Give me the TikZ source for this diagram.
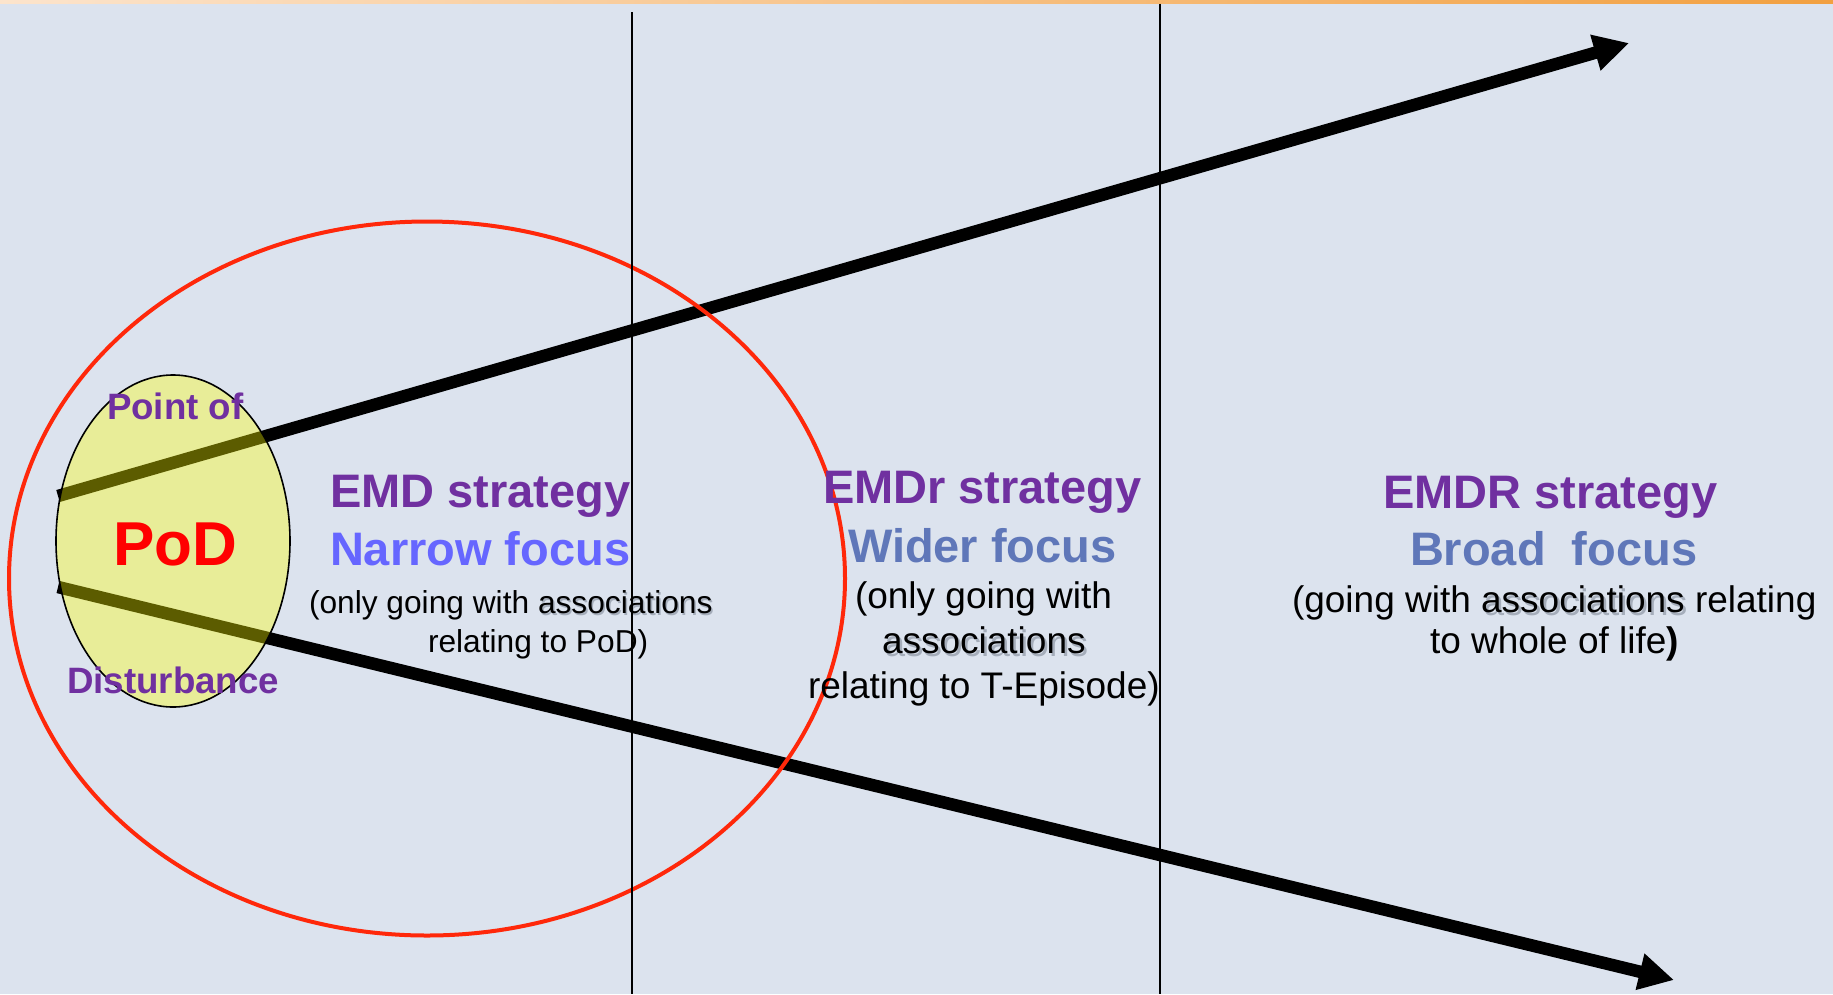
\documentclass[tikz,border=0pt]{standalone}
\usepackage{fontspec}
\setmainfont{Liberation Sans}
\usetikzlibrary{arrows.meta,shapes.geometric}
\definecolor{bgblue}{RGB}{220,227,238}
\definecolor{strpurple}{RGB}{112,48,160}
\definecolor{narrowblue}{RGB}{102,102,255}
\definecolor{steelblue}{RGB}{95,119,185}
\definecolor{redring}{RGB}{255,40,10}
\definecolor{peach}{RGB}{252,228,204}
\definecolor{orangetop}{RGB}{242,160,64}
\definecolor{podyellow}{RGB}{255,255,0}
\definecolor{shadowgray}{RGB}{120,130,145}
\tikzset{
  lbl/.style={anchor=base west, inner sep=0pt, outer sep=0pt},
  headtxt/.style={lbl, font=\fontsize{47}{56}\selectfont\bfseries},
  bodytxt/.style={lbl, font=\fontsize{37}{44}\selectfont},
  smalltxt/.style={lbl, font=\fontsize{31.7}{38}\selectfont},
  podlbl/.style={lbl, font=\fontsize{36.7}{44}\selectfont\bfseries, text=strpurple},
  shadowtxt/.style={text=shadowgray, opacity=0.55},
  arrowline/.style={line width=12.5pt, -{Triangle[length=35pt,width=35pt]}},
  divider/.style={line width=1.8pt, black},
  ring/.style={ellipse, draw=redring, line width=4pt, inner sep=0pt, minimum width=836pt, minimum height=714pt},
  podshape/.style={ellipse, draw=black, line width=1.6pt, fill=podyellow, fill opacity=0.36, inner sep=0pt, minimum width=234pt, minimum height=332pt},
}
\begin{document}
\begin{tikzpicture}[x=1pt,y=-1pt]
\useasboundingbox (0,0) rectangle (1833,994);
% background
\fill[bgblue] (0,0) rectangle (1833,994);
\shade[left color=peach, right color=orangetop] (0,0) rectangle (1833,3.5);

% arrows
\coordinate (u0) at (58,496);
\coordinate (u1) at (1629,43);
\coordinate (d0) at (58,587);
\coordinate (d1) at (1674,980);
\draw[arrowline] (u0) -- (u1);
\draw[arrowline] (d0) -- (d1);

% red ring
\node[ring] (redring) at (427,578.5) {};

% PoD ellipse
\node[podshape] (pod) at (173,541) {};

\node[podlbl] (pointof) at (107,419) {Point of};
\node[lbl, font=\fontsize{62}{70}\selectfont\bfseries, text=red] (podtxt) at (113,565) {PoD};
\node[podlbl] (disturb) at (67,693) {Disturbance};

% EMD
\node[headtxt, text=strpurple] (emdh) at (330,507) {EMD strategy};
\node[headtxt, text=narrowblue] (emdf) at (330,565) {Narrow focus};
\node[smalltxt, shadowtxt] (emdassocsh) at (309+7.225*31.7+1.5,613+2.5) {associations};
\node[smalltxt] (emdl1) at (309,613) {(only going with associations};
\node[smalltxt] (emdl2) at (428,652) {relating to PoD)};

% EMDr
\node[headtxt, text=strpurple] (emdrh) at (823,503) {EMDr strategy};
\node[headtxt, text=steelblue] (emdrf) at (848,562) {Wider focus};
\node[bodytxt] (emdrl1) at (855,608) {(only going with};
\node[bodytxt, shadowtxt] (emdrl2sh) at (884.5,656) {associations};
\node[bodytxt] (emdrl2) at (882,653) {associations};
\node[bodytxt] (emdrl3) at (808,698) {relating to T-Episode)};

% EMDR
\node[headtxt, text=strpurple] (emdRh) at (1383,508) {EMDR strategy};
\node[headtxt, text=steelblue] (emdRf) at (1410,565) {Broad\ \ focus};
\node[bodytxt, shadowtxt] (emdRl1sh) at (1292+5.113*37+2.5,612+3) {associations};
\node[bodytxt] (emdRl1) at (1292,612) {(going with associations relating};
\node[bodytxt] (emdRl2) at (1430,653) {to whole of life\textbf{)}};

% dividers
\coordinate (v1t) at (632,12);
\coordinate (v1b) at (632,994);
\coordinate (v2t) at (1160,3.5);
\coordinate (v2b) at (1160,994);
\draw[divider] (v1t) -- (v1b);
\draw[divider] (v2t) -- (v2b);
\end{tikzpicture}
\end{document}
